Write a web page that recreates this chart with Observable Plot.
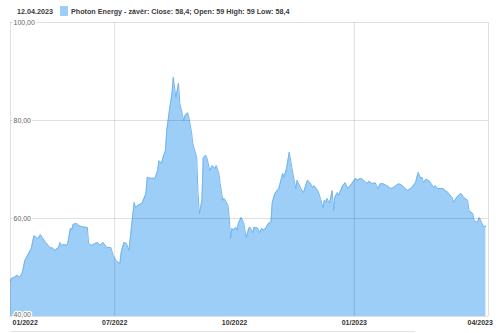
<!DOCTYPE html>
<html>
<head>
<meta charset="utf-8">
<script src="https://cdn.jsdelivr.net/npm/d3@7"></script>
<script src="https://cdn.jsdelivr.net/npm/@observablehq/plot@0.6"></script>
<style>
  html, body { margin: 0; padding: 0; background: #fff; }
  #wrap { position: relative; width: 500px; height: 333px; overflow: hidden; font-family: "Liberation Sans", Arial, sans-serif; }
  #hdr { position: absolute; left: 0; top: 0; width: 500px; height: 20px; font-size: 7.2px; font-weight: bold; color: #3a3a3a; }
  #hdr .date { position: absolute; left: 17px; top: 7px; }
  #hdr .sw { position: absolute; left: 60px; top: 6px; width: 8px; height: 10px; background: #9dcef7; }
  #hdr .lbl { position: absolute; left: 71px; top: 7px; white-space: nowrap; }
  #nav { position: absolute; left: 10px; top: 331px; width: 405px; height: 0; border-top: 1px solid #e2e2e2; }
  #chart { position: absolute; left: 0; top: 0; }
</style>
</head>
<body>
<div id="wrap">
  <div id="chart"></div>
  <div id="hdr"><span class="date">12.04.2023</span><span class="sw"></span><span class="lbl">Photon Energy - závěr: Close: 58,4; Open: 59 High: 59 Low: 58,4</span></div>
  <div id="nav"></div>
</div>
<script>
const dates = [
"2022-04-12","2022-04-13","2022-04-15","2022-04-17","2022-04-19","2022-04-21","2022-04-23","2022-04-26","2022-04-28","2022-04-30",
"2022-05-02","2022-05-03","2022-05-05","2022-05-07","2022-05-09","2022-05-11","2022-05-13","2022-05-14","2022-05-16","2022-05-19",
"2022-05-20","2022-05-21","2022-05-23","2022-05-25","2022-05-26","2022-05-28","2022-05-29","2022-05-30","2022-06-02","2022-06-03",
"2022-06-05","2022-06-08","2022-06-10","2022-06-11","2022-06-13","2022-06-16","2022-06-18","2022-06-20","2022-06-22","2022-06-25",
"2022-06-28","2022-06-30","2022-07-02","2022-07-05","2022-07-06","2022-07-08","2022-07-10","2022-07-12","2022-07-15","2022-07-16",
"2022-07-17","2022-07-19","2022-07-22","2022-07-25","2022-07-26","2022-07-28","2022-08-01","2022-08-03","2022-08-04","2022-08-06",
"2022-08-07","2022-08-09","2022-08-10","2022-08-12","2022-08-14","2022-08-15","2022-08-17","2022-08-18","2022-08-19","2022-08-20",
"2022-08-23","2022-08-24","2022-08-26","2022-08-27","2022-08-29","2022-08-30","2022-09-02","2022-09-03","2022-09-04","2022-09-06",
"2022-09-07","2022-09-09","2022-09-10","2022-09-12","2022-09-14","2022-09-16","2022-09-17","2022-09-19","2022-09-20","2022-09-22",
"2022-09-23","2022-09-26","2022-09-27","2022-09-28","2022-09-29","2022-09-30","2022-10-02","2022-10-03","2022-10-04","2022-10-06",
"2022-10-08","2022-10-10","2022-10-12","2022-10-13","2022-10-15","2022-10-16","2022-10-19","2022-10-20","2022-10-22","2022-10-23",
"2022-10-25","2022-10-27","2022-10-29","2022-10-30","2022-11-01","2022-11-04","2022-11-07","2022-11-08","2022-11-10","2022-11-12",
"2022-11-14","2022-11-17","2022-11-18","2022-11-21","2022-11-23","2022-11-26","2022-11-28","2022-11-30","2022-12-01","2022-12-04",
"2022-12-06","2022-12-08","2022-12-09","2022-12-10","2022-12-11","2022-12-13","2022-12-15","2022-12-16","2022-12-17","2022-12-19",
"2022-12-20","2022-12-23","2022-12-25","2022-12-27","2022-12-30","2023-01-02","2023-01-03","2023-01-06","2023-01-08","2023-01-11",
"2023-01-12","2023-01-15","2023-01-17","2023-01-19","2023-01-21","2023-01-23","2023-01-26","2023-01-29","2023-01-31","2023-02-04",
"2023-02-07","2023-02-09","2023-02-11","2023-02-14","2023-02-17","2023-02-19","2023-02-21","2023-02-22","2023-02-23","2023-02-25",
"2023-02-27","2023-03-01","2023-03-03","2023-03-04","2023-03-06","2023-03-10","2023-03-12","2023-03-14","2023-03-17","2023-03-18",
"2023-03-20","2023-03-22","2023-03-24","2023-03-26","2023-03-29","2023-03-30","2023-04-02","2023-04-03","2023-04-05","2023-04-06",
"2023-04-07","2023-04-09","2023-04-10","2023-04-12"
];
const closes = [
47.3,47.8,48.0,48.4,48.0,48.8,51.4,52.9,53.9,56.5,
56.1,55.9,56.7,55.9,55.1,54.5,53.9,54.1,53.5,54.1,
55.1,54.5,54.7,54.5,54.9,58.0,57.6,58.8,59.0,58.6,
58.4,58.2,58.2,54.9,54.5,54.9,55.1,54.5,55.1,54.1,
54.1,52.4,51.4,50.8,53.1,55.1,54.9,53.5,61.0,63.3,
62.2,62.7,63.1,65.1,68.4,68.2,68.2,69.8,71.8,71.2,
72.4,73.9,78.0,82.0,85.5,88.8,84.7,86.1,87.6,83.5,
80.0,81.0,81.6,80.6,77.6,75.3,72.4,65.1,61.0,63.7,
72.4,72.9,72.2,69.8,70.8,70.2,70.8,69.2,67.1,63.7,
64.1,62.7,60.0,55.9,58.0,57.6,58.2,57.6,59.0,60.2,
59.2,56.1,58.0,58.2,57.1,58.2,58.0,57.1,58.0,57.6,
58.0,59.0,59.2,63.3,65.1,66.1,69.2,68.4,70.2,73.5,
70.4,66.1,67.8,66.1,65.3,67.8,67.3,66.3,66.7,65.7,
64.1,62.2,63.7,63.3,64.1,63.1,65.7,61.6,64.3,65.3,
64.7,66.7,67.3,66.1,67.1,68.2,67.8,68.2,67.8,67.1,
67.6,67.1,67.3,66.1,67.1,67.1,66.7,66.1,66.3,67.1,
66.7,66.1,65.7,66.3,67.3,69.4,68.2,68.4,67.3,68.0,
67.8,67.1,66.3,66.7,66.1,66.1,65.7,65.3,64.3,63.3,
64.1,64.7,65.1,64.3,63.7,61.6,61.0,59.6,59.2,59.6,
60.2,59.0,58.4,58.4
];
const yTicks = [40, 60, 80, 100];
const yTickLabels = ["40,00", "60,00", "80,00", "100,00"];
const xTickDates = ["2022-04-12", "2022-07-01", "2022-10-01", "2023-01-01", "2023-04-01"];
const xTickLabels = ["01/2022", "07/2022", "10/2022", "01/2023", "04/2023"];
const xGridDates = ["2022-07-01", "2023-01-01"];
const xDomain = ["2022-04-12", "2023-04-14"];

const data = dates.map((d, i) => ({date: new Date(d), close: closes[i]}));
const xt = xTickDates.map((d, i) => ({date: new Date(d), label: xTickLabels[i]}));
const yt = yTicks.map((v, i) => ({v, label: yTickLabels[i]}));
const dom = xDomain.map(d => new Date(d));

const chart = Plot.plot({
  width: 500, height: 333,
  marginTop: 22, marginBottom: 17, marginLeft: 10, marginRight: 12,
  x: {type: "utc", domain: dom, axis: null},
  y: {domain: [40, 100], axis: null},
  style: {fontFamily: "'Liberation Sans', Arial, sans-serif", background: "transparent", overflow: "hidden"},
  marks: [
    Plot.areaY(data, {x: "date", y1: 40, y2: "close", fill: "#9dcef7"}),
    Plot.lineY(data, {x: "date", y: "close", stroke: "#74b5ee", strokeWidth: 1}),
    Plot.ruleY(yTicks, {stroke: "#000", strokeOpacity: 0.12}),
    Plot.ruleX(xGridDates.map(d => new Date(d)), {stroke: "#000", strokeOpacity: 0.13}),
    Plot.ruleX(dom, {stroke: "#000", strokeOpacity: 0.12}),
    Plot.text(yt.slice(1), {x: dom[0], y: "v", text: "label", textAnchor: "start", dx: 3, fill: "#666", stroke: "white", strokeWidth: 3, fontSize: 7}),
    Plot.text(yt.slice(0, 1), {x: dom[0], y: "v", text: "label", textAnchor: "start", dx: 3, dy: -1.5, fill: "#666", stroke: "white", strokeWidth: 2.5, fontSize: 7}),
    Plot.text(xt.slice(0, 1), {x: "date", text: "label", frameAnchor: "bottom", dy: 8, textAnchor: "start", dx: 2, fill: "#333", fontWeight: "bold", fontSize: 7}),
    Plot.text(xt.slice(1, 4), {x: "date", text: "label", frameAnchor: "bottom", dy: 8, textAnchor: "middle", fill: "#333", fontWeight: "bold", fontSize: 7}),
    Plot.text(xt.slice(4), {x: "date", text: "label", frameAnchor: "bottom", dy: 8, textAnchor: "start", dx: -4, fill: "#333", fontWeight: "bold", fontSize: 7})
  ]
});
document.getElementById("chart").appendChild(chart);
</script>
</body>
</html>
